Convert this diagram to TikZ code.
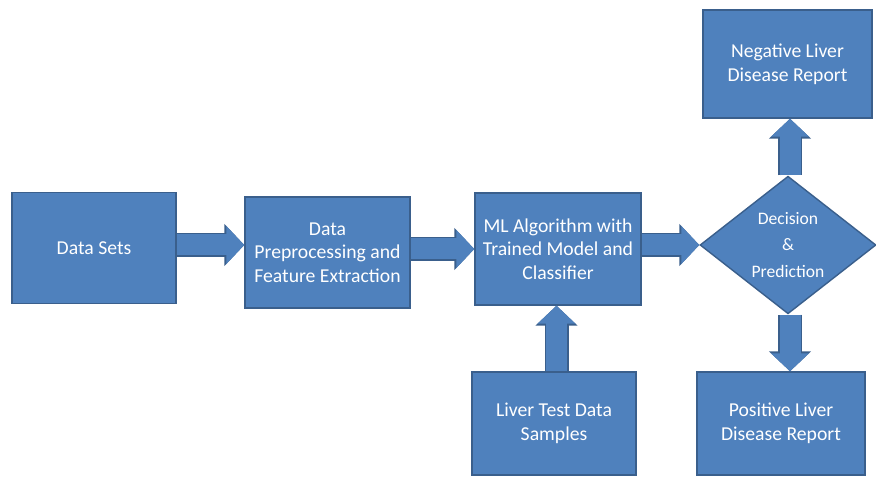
\documentclass[tikz,border=0pt]{standalone}
\usepackage{fontspec}
\setmainfont{Carlito}
\usetikzlibrary{shapes.geometric,arrows.meta,positioning}
\definecolor{boxblue}{HTML}{4F81BD}
\definecolor{boxline}{HTML}{3A5F8C}

\begin{document}
\begin{tikzpicture}[
    stagebox/.style={draw=boxline, line width=0.8pt, fill=boxblue, text=white,
        align=center, font=\fontsize{11.2}{13.5}\selectfont, inner sep=2pt},
    blockarrow/.style={draw=boxblue, line width=0.42cm,
        -{Triangle[width=0.74cm,length=0.36cm]},
        preaction={draw=boxline, line width=0.48cm,
            -{Triangle[width=0.82cm,length=0.40cm]}}}
]
    \useasboundingbox (0,0) rectangle (17.52,9.58);

    % main row
    \node[stagebox, minimum width=3.28cm, minimum height=2.22cm] (ds) at (1.88,4.62) {Data Sets};
    \node[stagebox, minimum width=3.30cm, minimum height=2.22cm] (dp) at (6.55,4.53) {Data\\Preprocessing and\\Feature Extraction};
    \node[stagebox, minimum width=3.32cm, minimum height=2.24cm] (ml) at (11.16,4.60) {ML Algorithm with\\Trained Model and\\Classifier};
    \node[stagebox, diamond, inner sep=0pt, minimum width=3.52cm, minimum height=2.60cm,
        font=\fontsize{10}{15}\selectfont] (dec) at (15.76,4.68) {Decision\\\&\\Prediction};

    % reports and samples
    \node[stagebox, minimum width=3.38cm, minimum height=2.16cm] (neg) at (15.75,8.30) {Negative Liver\\Disease Report};
    \node[stagebox, minimum width=3.36cm, minimum height=2.06cm] (pos) at (15.62,1.11) {Positive Liver\\Disease Report};
    \node[stagebox, minimum width=3.28cm, minimum height=2.06cm] (lts) at (11.08,1.11) {Liver Test Data\\Samples};

    % block arrows
    \draw[blockarrow] ([yshift=0.06cm]ds.east) -- ([yshift=0.06cm]ds.east -| dp.west);
    \draw[blockarrow] (dp.east |- ml.west) -- (ml.west);
    \draw[blockarrow] (ml.east |- dec.west) -- (dec.west);
    \draw[blockarrow] ([xshift=0.04cm]dec.north) -- ([xshift=0.04cm]dec.north |- neg.south);
    \draw[blockarrow] ([xshift=0.04cm]dec.south) -- ([xshift=0.04cm]dec.south |- pos.north);
    \draw[blockarrow] ([xshift=0.05cm]lts.north) -- ([xshift=0.05cm]lts.north |- ml.south);
\end{tikzpicture}
\end{document}
